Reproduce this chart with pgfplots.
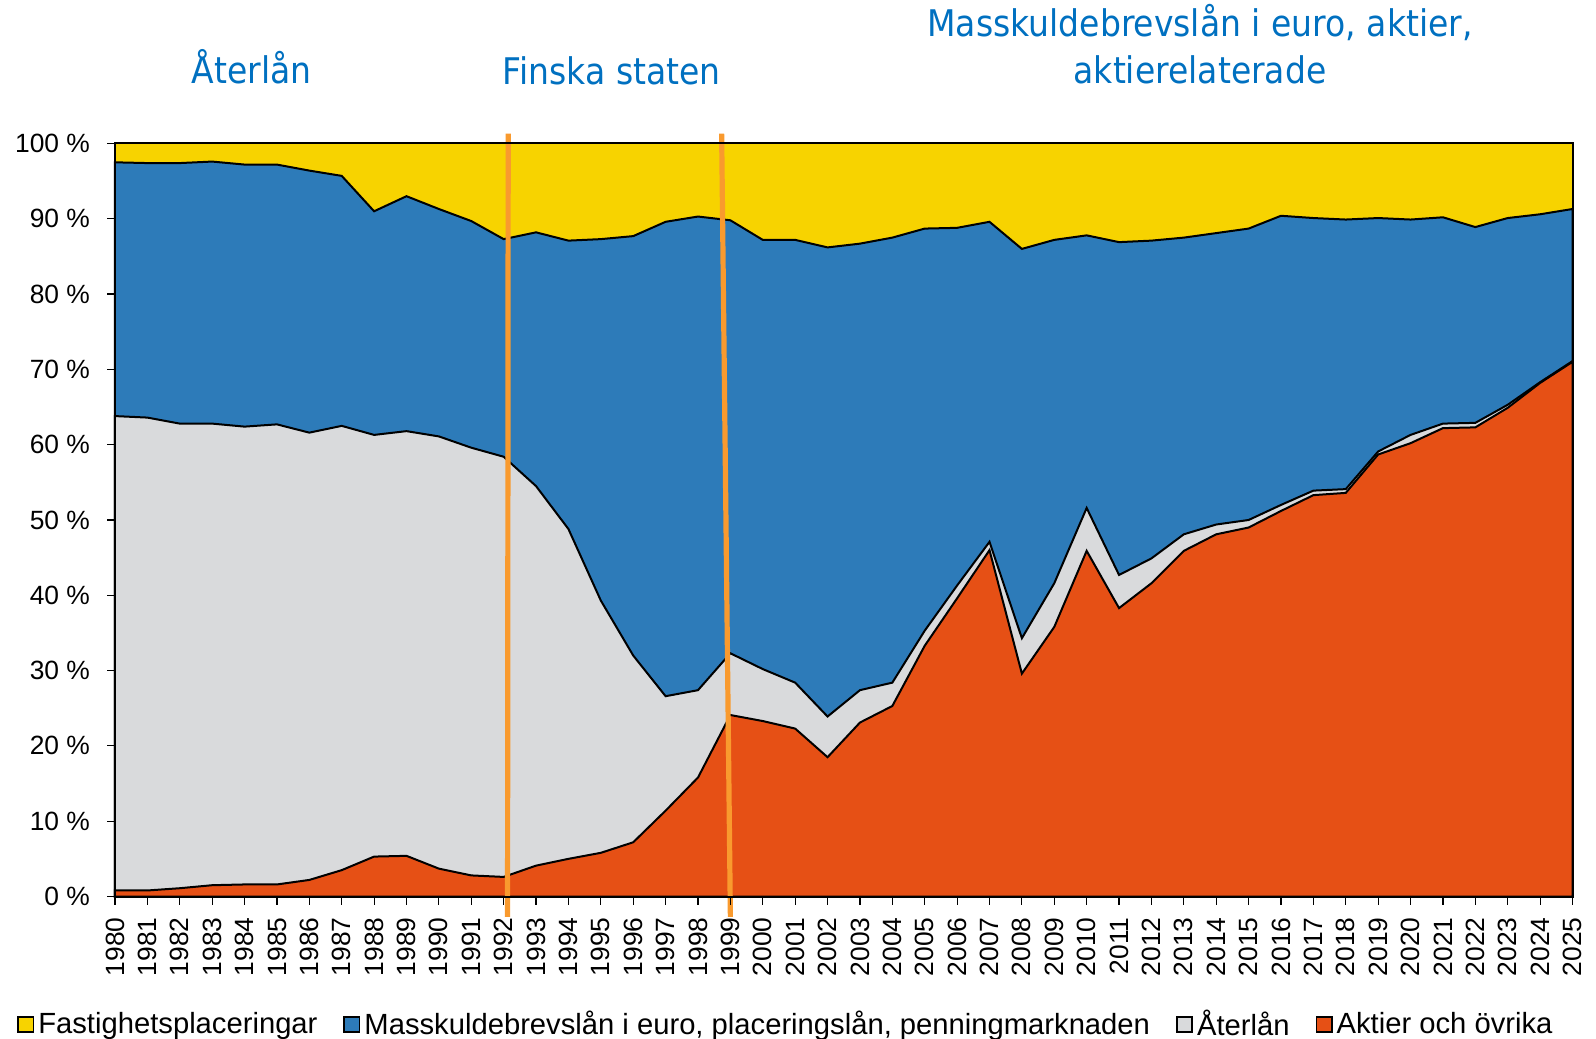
\documentclass[border=0pt]{standalone}
\usepackage{fontspec}
\setmainfont{Liberation Sans}
\newfontfamily\headfont[FakeStretch=0.9]{DejaVu Sans}
\usepackage{pgfplots}
\usepackage{pgfplotstable}
\pgfplotsset{compat=1.18}
\definecolor{cyellow}{HTML}{F7D300}
\definecolor{cblue}{HTML}{2D7BB9}
\definecolor{cgray}{HTML}{D9DADC}
\definecolor{corange}{HTML}{E65015}
\definecolor{cline}{HTML}{F99A2E}
\definecolor{ctitle}{HTML}{0070C0}
\pgfplotstableread{
year A G B
1980 0.8 63.8 97.5
1981 0.8 63.6 97.4
1982 1.1 62.8 97.4
1983 1.5 62.8 97.6
1984 1.6 62.4 97.2
1985 1.6 62.7 97.2
1986 2.2 61.6 96.4
1987 3.5 62.5 95.7
1988 5.3 61.3 91.0
1989 5.4 61.8 93.0
1990 3.7 61.1 91.3
1991 2.8 59.6 89.7
1992 2.6 58.4 87.3
1993 4.1 54.5 88.2
1994 5.0 48.8 87.1
1995 5.8 39.3 87.3
1996 7.2 32.0 87.7
1997 11.4 26.6 89.6
1998 15.8 27.4 90.3
1999 24.1 32.3 89.8
2000 23.3 30.2 87.2
2001 22.3 28.4 87.2
2002 18.5 23.9 86.2
2003 23.1 27.4 86.7
2004 25.3 28.4 87.5
2005 33.3 35.3 88.7
2006 39.6 41.3 88.8
2007 46.0 47.1 89.6
2008 29.6 34.3 86.0
2009 35.8 41.6 87.2
2010 45.9 51.6 87.8
2011 38.3 42.7 86.9
2012 41.6 44.9 87.1
2013 45.9 48.1 87.5
2014 48.1 49.4 88.1
2015 49.0 50.0 88.7
2016 51.2 52.0 90.4
2017 53.3 53.9 90.1
2018 53.6 54.1 89.9
2019 58.7 59.1 90.1
2020 60.2 61.3 89.9
2021 62.2 62.8 90.2
2022 62.3 62.9 88.9
2023 64.9 65.3 90.1
2024 68.2 68.3 90.6
2025 71.0 71.1 91.3
}\datatable
\begin{document}
\begin{tikzpicture}
\path[use as bounding box] (-57.5pt,-71.15pt) rectangle (740.5pt,448.25pt);
\begin{axis}[
  scale only axis,
  width=728.75pt, height=376.5pt,
  xmin=1980, xmax=2025, ymin=0, ymax=100,
  xtick distance=1, ytick distance=10,
  clip=false,
  axis on top,
  axis line style={line width=1pt},
  tick style={black, line width=0.6pt},
  tick align=outside,
  major tick length=4pt,
  xtick pos=bottom, ytick pos=left,
  /pgf/number format/assume math mode=true,
  /pgf/number format/1000 sep={},
  ticklabel style={font=\fontsize{13.2}{14}\selectfont},
  xticklabel style={rotate=90, anchor=east},
  xticklabel shift=3pt,
  yticklabel shift=5pt,
  yticklabel={\pgfmathprintnumber{\tick} \%},
  legend columns=4,
  legend style={at={(0.461,-0.170)}, anchor=center, draw=none, fill=none,
    font=\fontsize{14.6}{16}\selectfont,
    /tikz/every even column/.append style={column sep=11pt},
    nodes={inner xsep=2pt, inner ysep=1pt}},
  legend image code/.code={\draw[line width=0.9pt] (0pt,-3.8pt) rectangle (7.6pt,3.8pt);},
]
\addplot[fill=cyellow, draw=black, line width=1pt] coordinates {(1980,100) (2025,100)} \closedcycle;
\addlegendentry{Fastighetsplaceringar}
\addplot[fill=cblue, draw=black, line width=1pt] table[x=year, y=B] {\datatable} \closedcycle;
\addlegendentry{Masskuldebrevslån i euro, placeringslån, penningmarknaden}
\addplot[fill=cgray, draw=black, line width=1pt] table[x=year, y=G] {\datatable} \closedcycle;
\addlegendentry{Återlån}
\addplot[fill=corange, draw=black, line width=1pt] table[x=year, y=A] {\datatable} \closedcycle;
\addlegendentry{Aktier och övrika}
\addplot[forget plot, cline, line width=2.6pt] coordinates {(1992.14,101.3) (1992.12,-2.7)};
\addplot[forget plot, cline, line width=2.6pt] coordinates {(1998.73,101.3) (1999.0,-2.7)};
\node[anchor=base, text=ctitle, font=\headfont\fontsize{18.35}{20}\selectfont] at (axis cs:1984.22,108.0) {Återlån};
\node[anchor=base, text=ctitle, font=\headfont\fontsize{18.35}{20}\selectfont] at (axis cs:1995.34,107.9) {Finska staten};
\node[anchor=base, text=ctitle, font=\headfont\fontsize{18.35}{20}\selectfont] at (axis cs:2013.5,114.2) {Masskuldebrevslån i euro, aktier,};
\node[anchor=base, text=ctitle, font=\headfont\fontsize{18.35}{20}\selectfont] at (axis cs:2013.5,108.0) {aktierelaterade};
\end{axis}
\end{tikzpicture}
\end{document}
